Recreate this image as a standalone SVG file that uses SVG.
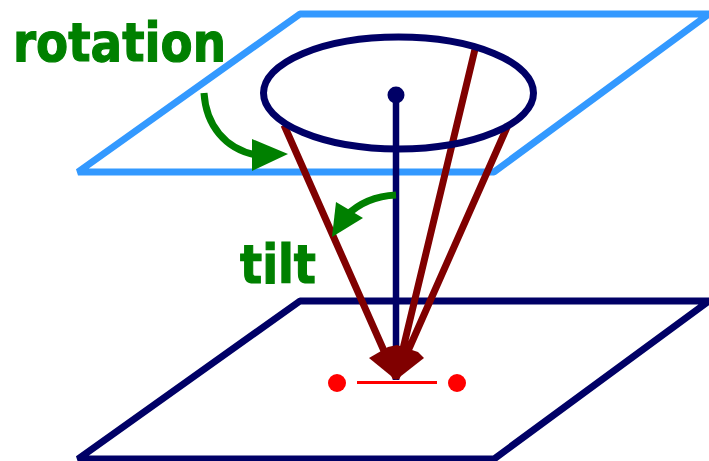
<svg xmlns="http://www.w3.org/2000/svg" width="709" height="461" viewBox="0 0 709 461">
<defs><style>
.p{fill:none;stroke-width:7;stroke-linejoin:bevel}
.r{stroke:#800000;stroke-width:7;fill:none}
.g{stroke:#008000;stroke-width:7;fill:none}
.t{font-family:"DejaVu Sans","Liberation Sans",sans-serif;font-weight:bold;fill:#008000;stroke:#008000;stroke-width:1.200;font-size:54px}
</style></defs>
<rect width="709" height="461" fill="#fff"/>
<g id="plane-top"><path class="p" stroke="#3399ff" d="M709 14H300L78 172H494L709 14"/></g>
<g id="plane-bottom"><path class="p" stroke="#000066" d="M709 301H300L78 459H494L709 301"/></g>
<g id="connectors">
<path d="M396 95V380" stroke="#000066" stroke-width="6.500"/>
<path class="r" d="M284 125L396 378M476 45L396 378M508 125L396 378"/>
<path fill="#800000" d="M369 358L388 347L397 345L418 352L424 358L396 380Z"/>
<path d="M357 382.500H437" stroke="#ff0000" stroke-width="3"/>
<path class="g" d="M204 93C206 125 225 149 256 155"/>
<path fill="#008000" d="M252 139L288 154L252 171Z"/>
<path class="g" d="M396 195C375 196 358 204 346 216"/>
<path fill="#008000" d="M332 237L336 202L363 218Z"/>
</g>
<g id="ring"><ellipse cx="398.500" cy="93" rx="135" ry="56" fill="none" stroke="#000066" stroke-width="7"/><circle cx="396" cy="95" r="8.500" fill="#000066"/></g>
<g id="dot-left"><circle cx="337" cy="383" r="9" fill="#ff0000"/></g>
<g id="dot-right"><circle cx="457" cy="383" r="9" fill="#ff0000"/></g>
<g id="label-rotation"><text class="t" x="13" y="61" textLength="213" lengthAdjust="spacingAndGlyphs">rotation</text></g>
<g id="label-tilt"><text class="t" x="240" y="283" textLength="76" lengthAdjust="spacingAndGlyphs">tilt</text></g>
</svg>
